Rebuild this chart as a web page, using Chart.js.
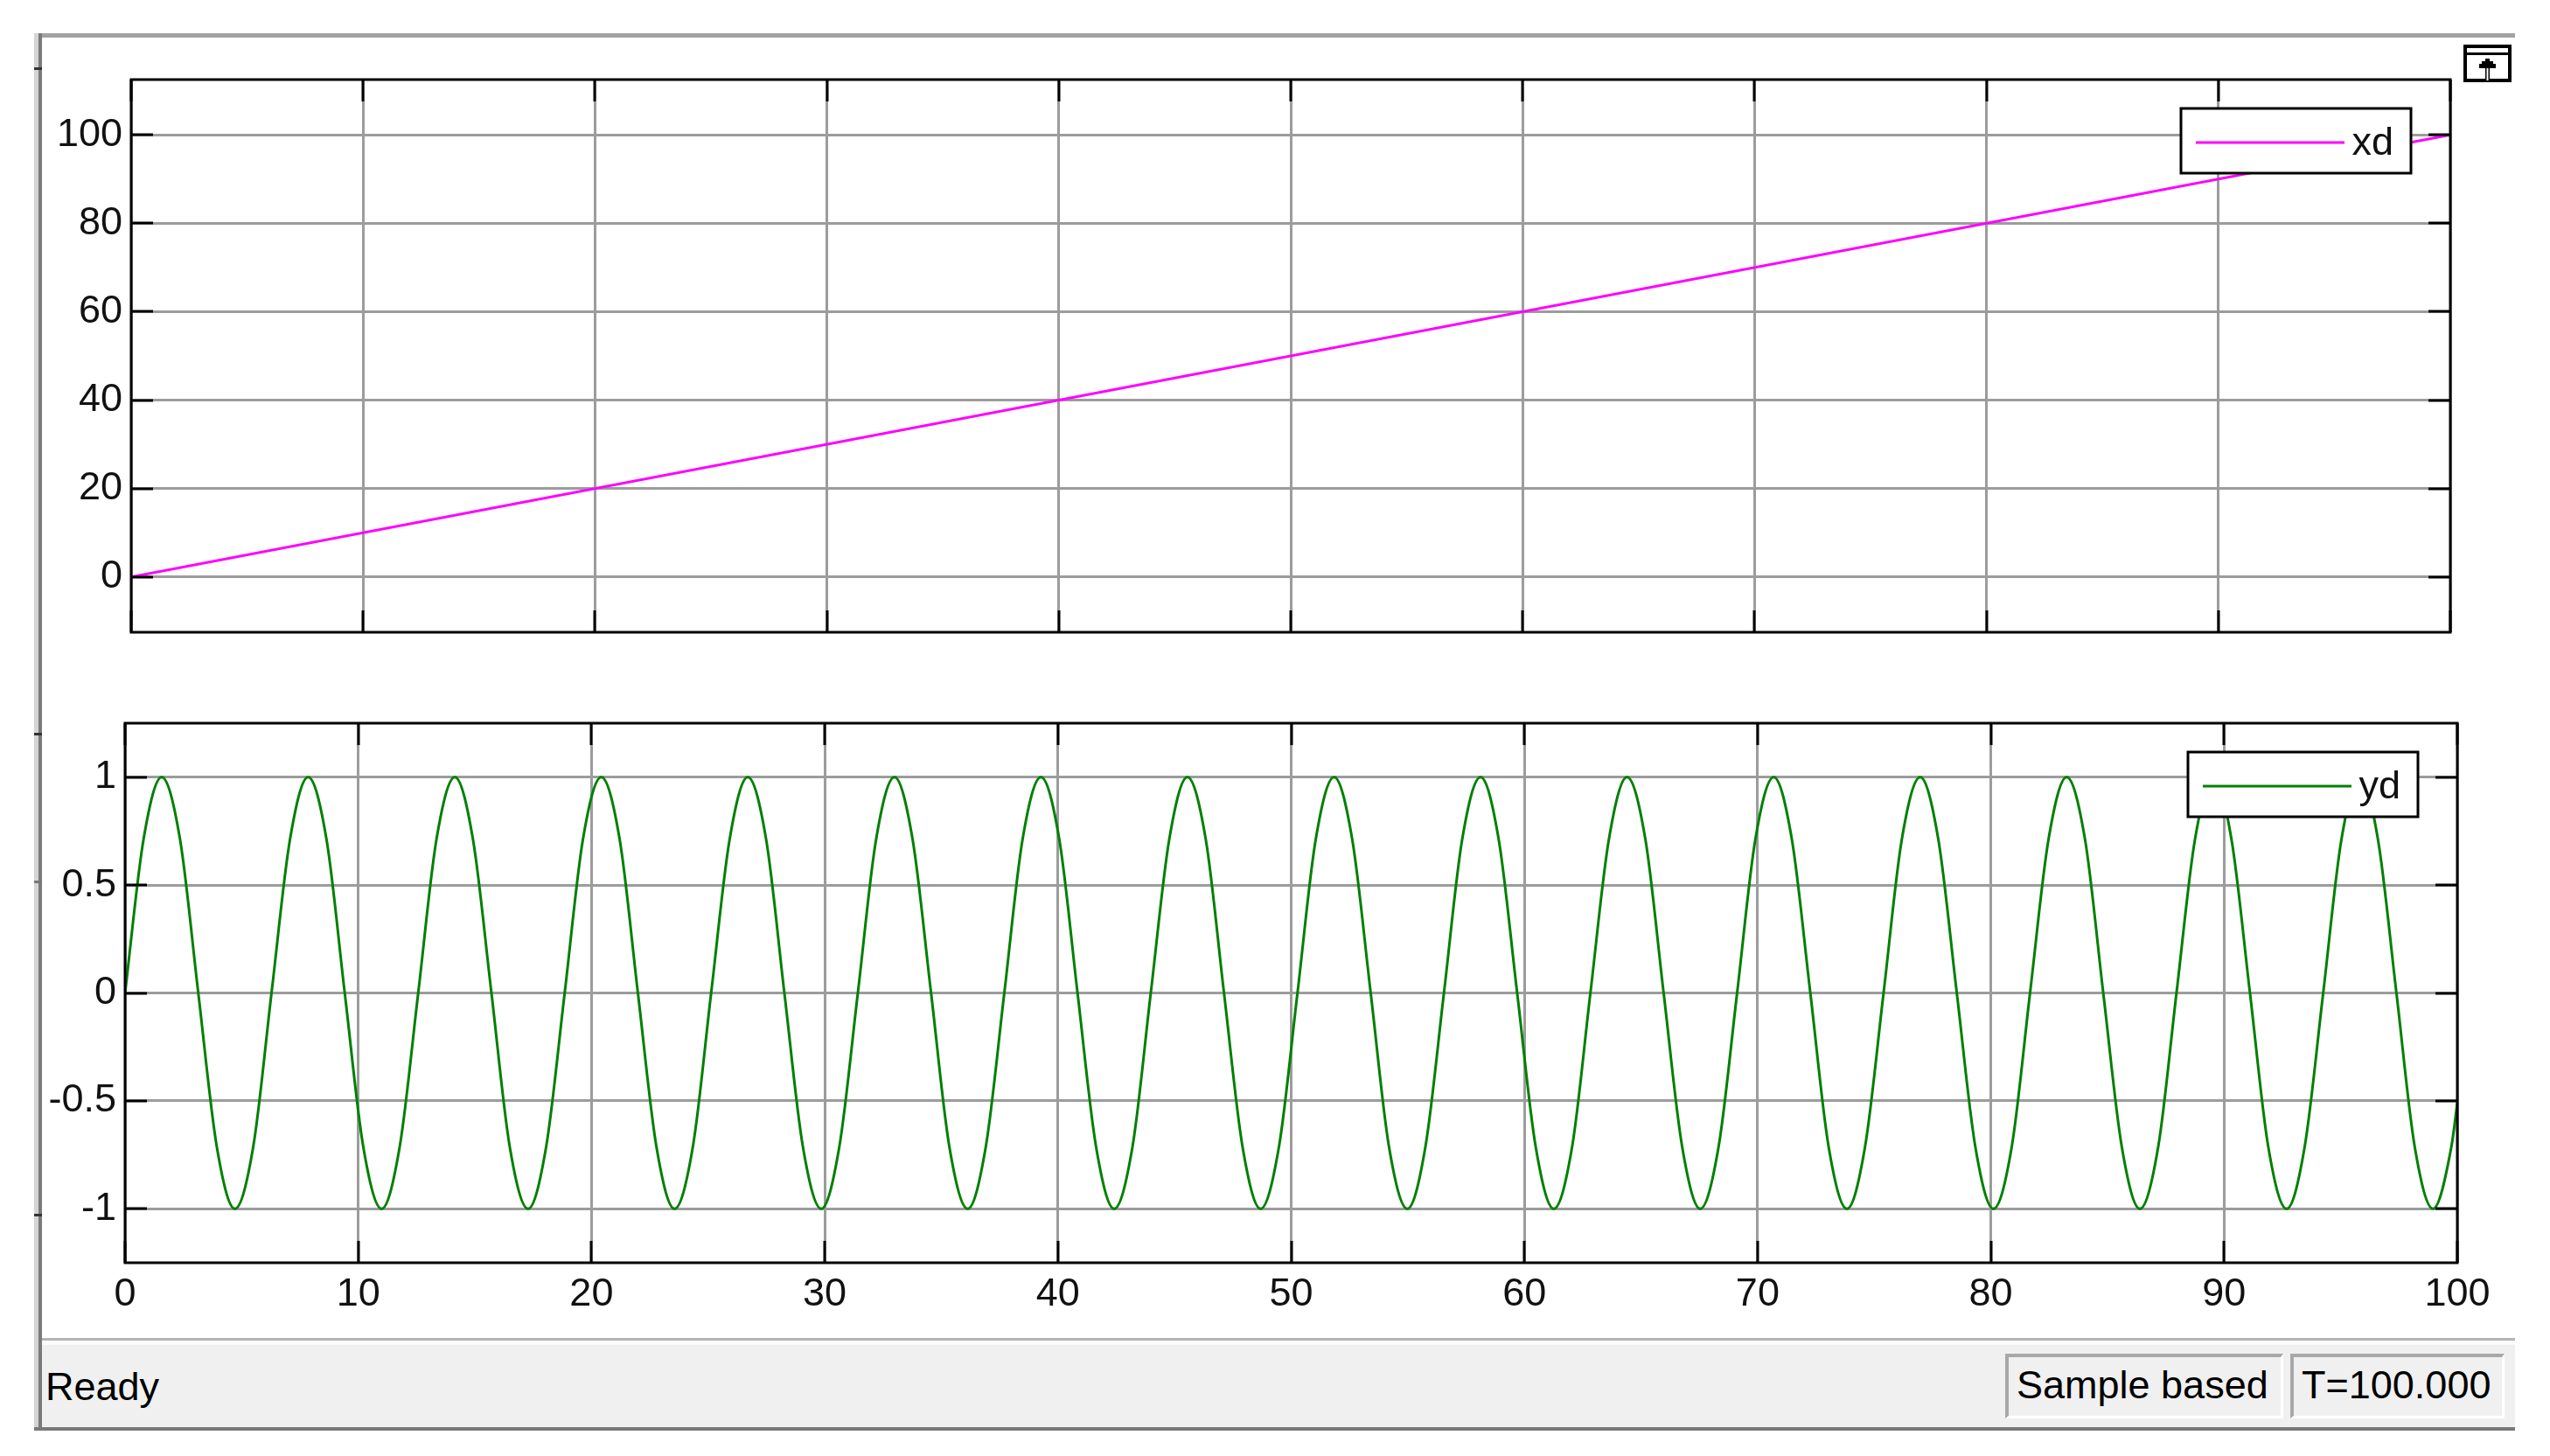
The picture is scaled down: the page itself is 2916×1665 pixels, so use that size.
<!DOCTYPE html>
<html><head><meta charset="utf-8">
<script src="https://cdn.jsdelivr.net/npm/chart.js@4.4.0/dist/chart.umd.min.js"></script>
<style>
html,body{margin:0;padding:0;background:#fff;width:2916px;height:1665px;overflow:hidden;font-family:"Liberation Sans",Arial,sans-serif;}
canvas{position:absolute;left:0;}
#c1{top:0;}
#c2{top:760px;}
.abs{position:absolute;}
#fTop{left:39px;top:38px;width:2837px;height:5px;background:#a3a3a3;}
#fLeftL{left:39px;top:38px;width:5px;height:1598px;background:#d4d4d4;}
#fLeftD{left:44px;top:38px;width:4px;height:1598px;background:#7a7a7a;}
.mark{left:39px;width:9px;height:3px;background:#333;}
#sep{left:48px;top:1530px;width:2828px;height:3px;background:#b4b4b4;}
#sepW{left:48px;top:1533px;width:2828px;height:5px;background:#fafafa;}
#status{left:48px;top:1538px;width:2828px;height:94px;background:#f0f0f0;}
#fBot{left:39px;top:1632px;width:2837px;height:4px;background:#7a7a7a;}
.txt{font-size:45px;line-height:52px;color:#000;white-space:nowrap;}
#ready{left:52px;top:1560px;}
.panel{top:1548px;height:74px;box-sizing:border-box;border-top:4px solid #a8a8a8;border-left:4px solid #a8a8a8;border-right:3px solid #fff;border-bottom:3px solid #fff;background:#f0f0f0;}
#p1{left:2293px;width:318px;}
#p2{left:2619px;width:245px;}
#t1{left:2306px;top:1558px;}
#t2{left:2632px;top:1558px;}
#icon{left:2817px;top:51px;}
</style></head>
<body>
<canvas id="c1" width="2916" height="760"></canvas>
<canvas id="c2" width="2916" height="770"></canvas>
<div class="abs" id="fTop"></div>
<div class="abs" id="fLeftL"></div>
<div class="abs" id="fLeftD"></div>
<div class="abs mark" style="top:77px"></div>
<div class="abs mark" style="top:838px"></div>
<div class="abs mark" style="top:1007px;background:#777"></div>
<div class="abs mark" style="top:1388px"></div>
<div class="abs" id="sep"></div>
<div class="abs" id="sepW"></div>
<div class="abs" id="status"></div>
<div class="abs" id="fBot"></div>
<div class="abs txt" id="ready">Ready</div>
<div class="abs panel" id="p1"></div>
<div class="abs panel" id="p2"></div>
<div class="abs txt" id="t1">Sample based</div>
<div class="abs txt" id="t2">T=100.000</div>
<svg class="abs" id="icon" width="55" height="43" viewBox="0 0 55 43">
  <rect x="2" y="2" width="51" height="39" fill="#fff" stroke="#000" stroke-width="4"/>
  <rect x="4" y="9" width="47" height="3" fill="#000"/>
  <polygon points="25,16 30,16 30,19 34,19 34,22 37,22 37,27 30,27 30,41 25,41 25,27 18,27 18,22 21,22 21,19 25,19" fill="#000"/>
  <rect x="26.5" y="27" width="2" height="14" fill="#fff"/>
</svg>
<script>
// ---- data ----
const timeX = [0, 100];
const xdValues = [0, 100];

const timeY = [0, 0.79, 1.57, 2.36, 3.14, 3.93, 4.71, 5.50, 6.28, 7.07, 7.85, 8.64, 9.42, 10.21, 11.00, 11.78,
  12.57, 13.35, 14.14, 14.92, 15.71, 16.49, 17.28, 18.06, 18.85, 19.63, 20.42, 21.21, 21.99, 22.78, 23.56, 24.35,
  25.13, 25.92, 26.70, 27.49, 28.27, 29.06, 29.85, 30.63, 31.42, 32.20, 32.99, 33.77, 34.56, 35.34, 36.13, 36.91,
  37.70, 38.48, 39.27, 40.06, 40.84, 41.63, 42.41, 43.20, 43.98, 44.77, 45.55, 46.34, 47.12, 47.91, 48.69, 49.48,
  50.27, 51.05, 51.84, 52.62, 53.41, 54.19, 54.98, 55.76, 56.55, 57.33, 58.12, 58.90, 59.69, 60.48, 61.26, 62.05,
  62.83, 63.62, 64.40, 65.19, 65.97, 66.76, 67.54, 68.33, 69.12, 69.90, 70.69, 71.47, 72.26, 73.04, 73.83, 74.61,
  75.40, 76.18, 76.97, 77.75, 78.54, 79.33, 80.11, 80.90, 81.68, 82.47, 83.25, 84.04, 84.82, 85.61, 86.39, 87.18,
  87.96, 88.75, 89.54, 90.32, 91.11, 91.89, 92.68, 93.46, 94.25, 95.03, 95.82, 96.60, 97.39, 98.17, 98.96, 99.75,
  100];
const ydValues = [
  0, 0.71, 1, 0.71, 0, -0.71, -1, -0.71,
  0, 0.71, 1, 0.71, 0, -0.71, -1, -0.71,
  0, 0.71, 1, 0.71, 0, -0.71, -1, -0.71,
  0, 0.71, 1, 0.71, 0, -0.71, -1, -0.71,
  0, 0.71, 1, 0.71, 0, -0.71, -1, -0.71,
  0, 0.71, 1, 0.71, 0, -0.71, -1, -0.71,
  0, 0.71, 1, 0.71, 0, -0.71, -1, -0.71,
  0, 0.71, 1, 0.71, 0, -0.71, -1, -0.71,
  0, 0.71, 1, 0.71, 0, -0.71, -1, -0.71,
  0, 0.71, 1, 0.71, 0, -0.71, -1, -0.71,
  0, 0.71, 1, 0.71, 0, -0.71, -1, -0.71,
  0, 0.71, 1, 0.71, 0, -0.71, -1, -0.71,
  0, 0.71, 1, 0.71, 0, -0.71, -1, -0.71,
  0, 0.71, 1, 0.71, 0, -0.71, -1, -0.71,
  0, 0.71, 1, 0.71, 0, -0.71, -1, -0.71,
  0, 0.71, 1, 0.71, 0, -0.71, -1, -0.71,
  -0.51];

const xTickValues = [0, 10, 20, 30, 40, 50, 60, 70, 80, 90, 100];
const xTickLabels = ['0', '10', '20', '30', '40', '50', '60', '70', '80', '90', '100'];
const topYTickValues = [0, 20, 40, 60, 80, 100];
const topYTickLabels = ['0', '20', '40', '60', '80', '100'];
const botYTickValues = [-1, -0.5, 0, 0.5, 1];
const botYTickLabels = ['-1', '-0.5', '0', '0.5', '1'];
const seriesNames = ['xd', 'yd'];

// ---- styling ----
const FONT = {family: "'Liberation Sans', Arial, sans-serif", size: 45};
const GRID = '#9c9c9c';

const framePlugin = {
  id: 'frame',
  afterDatasetsDraw(chart) {
    const {ctx, chartArea: a, scales: {x, y}} = chart;
    ctx.save();
    ctx.strokeStyle = '#000';
    ctx.lineWidth = 3;
    ctx.beginPath();
    x.ticks.forEach(t => {
      const p = Math.round(x.getPixelForValue(t.value));
      ctx.moveTo(p, a.bottom); ctx.lineTo(p, a.bottom - 25);
      ctx.moveTo(p, a.top); ctx.lineTo(p, a.top + 25);
    });
    y.ticks.forEach(t => {
      const p = Math.round(y.getPixelForValue(t.value));
      ctx.moveTo(a.left, p); ctx.lineTo(a.left + 25, p);
      ctx.moveTo(a.right, p); ctx.lineTo(a.right - 25, p);
    });
    ctx.stroke();
    ctx.strokeRect(a.left, a.top, a.right - a.left, a.bottom - a.top);
    // legend box (scope style)
    const ds = chart.data.datasets[0];
    const bw = 263, bh = 74;
    const bx = a.right - 45 - bw, by = a.top + 33;
    ctx.fillStyle = '#fff';
    ctx.fillRect(bx, by, bw, bh);
    ctx.strokeRect(bx, by, bw, bh);
    ctx.strokeStyle = ds.borderColor;
    ctx.lineWidth = 3;
    ctx.beginPath();
    ctx.moveTo(bx + 17, by + 39); ctx.lineTo(bx + 187, by + 39);
    ctx.stroke();
    ctx.fillStyle = '#111';
    ctx.font = `${FONT.size}px ${FONT.family}`;
    ctx.textAlign = 'right';
    ctx.textBaseline = 'alphabetic';
    ctx.fillText(ds.label, bx + 243, by + 53);
    ctx.restore();
  }
};

function setTicks(values) {
  return s => { s.ticks = values.map(v => ({value: v})); };
}
function labelFrom(values, labels) {
  return v => { const i = values.indexOf(v); return i >= 0 ? labels[i] : ''; };
}

// top chart
new Chart(document.getElementById('c1'), {
  type: 'line',
  data: {
    datasets: [{
      label: seriesNames[0],
      data: timeX.map((t, i) => ({x: t, y: xdValues[i]})),
      borderColor: '#ff00ff', borderWidth: 3, pointRadius: 0, fill: false
    }]
  },
  options: {
    responsive: false, animation: false, devicePixelRatio: 1,
    layout: {padding: {left: 50, right: 114, top: 91, bottom: 34}},
    plugins: {legend: {display: false}, tooltip: {enabled: false}},
    scales: {
      x: {
        type: 'linear', min: 0, max: 100,
        afterBuildTicks: setTicks(xTickValues),
        afterFit: s => { s.height = 0; },
        ticks: {display: false},
        grid: {color: GRID, lineWidth: 3, drawTicks: false},
        border: {display: false}
      },
      y: {
        min: -12.5, max: 112.5,
        afterBuildTicks: setTicks(topYTickValues),
        afterFit: s => { s.width = 100; },
        ticks: {font: FONT, color: '#111', padding: 10, callback: labelFrom(topYTickValues, topYTickLabels)},
        grid: {color: GRID, lineWidth: 3, drawTicks: false},
        border: {display: false}
      }
    }
  },
  plugins: [framePlugin]
});

// bottom chart
new Chart(document.getElementById('c2'), {
  type: 'line',
  data: {
    datasets: [{
      label: seriesNames[1],
      data: timeY.map((t, i) => ({x: t, y: ydValues[i]})),
      borderColor: '#008000', borderWidth: 3, pointRadius: 0, fill: false,
      cubicInterpolationMode: 'monotone'
    }]
  },
  options: {
    responsive: false, animation: false, devicePixelRatio: 1,
    layout: {padding: {left: 43, right: 106, top: 67, bottom: 26}},
    plugins: {legend: {display: false}, tooltip: {enabled: false}},
    scales: {
      x: {
        type: 'linear', min: 0, max: 100,
        afterBuildTicks: setTicks(xTickValues),
        afterFit: s => { s.height = 60; },
        ticks: {font: FONT, color: '#111', padding: 10, maxRotation: 0, callback: labelFrom(xTickValues, xTickLabels)},
        grid: {color: GRID, lineWidth: 3, drawTicks: false},
        border: {display: false}
      },
      y: {
        min: -1.25, max: 1.25,
        afterBuildTicks: setTicks(botYTickValues),
        afterFit: s => { s.width = 100; },
        ticks: {font: FONT, color: '#111', padding: 10, callback: labelFrom(botYTickValues, botYTickLabels)},
        grid: {color: GRID, lineWidth: 3, drawTicks: false},
        border: {display: false}
      }
    }
  },
  plugins: [framePlugin]
});
</script>
</body></html>
